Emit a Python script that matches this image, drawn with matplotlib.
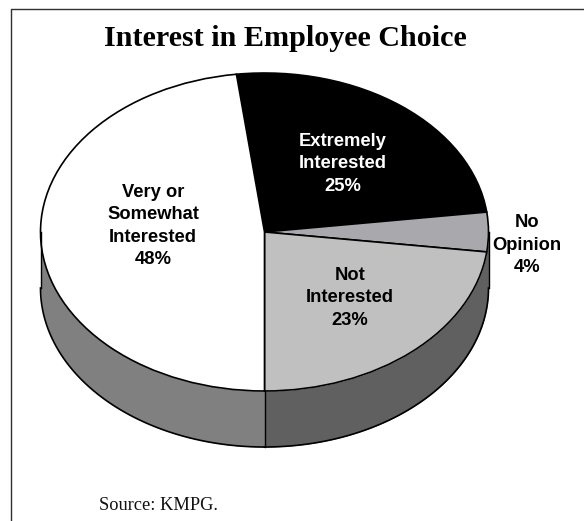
import numpy as np
import matplotlib
matplotlib.use("Agg")
import matplotlib.pyplot as plt

W, H = 584, 521

slice_values = [25, 4, 23, 48]
slice_colors = ["#000000", "#a9a9ad", "#c0c0c0", "#ffffff"]
slice_labels = ["Extremely\nInterested\n25%", "No\nOpinion\n4%", "Not\nInterested\n23%", "Very or\nSomewhat\nInterested\n48%"]
label_x = [342.5, 527, 350, 153]
label_y = [164, 245, 298, 226]
label_colors = ["white", "black", "black", "black"]
wall_colors = ["#808080", "#606060"]

title = "Interest in Employee Choice"
source = "Source: KMPG."

# pie geometry in pixels
cx, cy = 264.5, 232
rx, ry = 224, 159
depth = 56

fig = plt.figure(figsize=(W/100, H/100), dpi=100, facecolor="white")

# overlay in pixel coords for the frame and the text
bg = fig.add_axes([0, 0, 1, 1])
bg.set_xlim(0, W)
bg.set_ylim(H, 0)
bg.axis("off")
bg.plot([10.5, 10.5, W], [H, 8.5, 8.5], color="#303030", lw=1)

# the pie axes spans the ellipse, so a unit pie turns into a flat disc
ax = fig.add_axes([(cx-rx)/W, 1-(cy+ry)/H, 2*rx/W, 2*ry/H])
ax.patch.set_visible(False)

# side wall under the front half, split at the bottom of the disc
d = 2*depth/(2*ry)
t = np.radians(np.linspace(180, 270, 100))
ax.fill_between(np.cos(t), np.sin(t)-d, np.sin(t), color=wall_colors[0], lw=0, clip_on=False)
ax.plot(np.cos(t), np.sin(t)-d, color="black", lw=1.2, clip_on=False)
t = np.radians(np.linspace(270, 360, 100))
ax.fill_between(np.cos(t), np.sin(t)-d, np.sin(t), color=wall_colors[1], lw=0, clip_on=False)
ax.plot(np.cos(t), np.sin(t)-d, color="black", lw=1.2, clip_on=False)
ax.plot([0, 0], [-1, -1-d], color="black", lw=1, clip_on=False)
ax.plot([-1, -1], [0, -d], color="black", lw=1, clip_on=False)
ax.plot([1, 1], [0, -d], color="black", lw=1, clip_on=False)

ax.pie(slice_values, colors=slice_colors, startangle=97.2, counterclock=False, radius=1,
       wedgeprops=dict(edgecolor="black", linewidth=1.2, clip_on=False))
ax.set_aspect("auto")
ax.set_xlim(-1, 1)
ax.set_ylim(-1, 1)

text_ax = fig.add_axes([0, 0, 1, 1])
text_ax.set_xlim(0, W)
text_ax.set_ylim(H, 0)
text_ax.axis("off")
text_ax.text(285.5, 38, title, family="Liberation Serif", weight="bold", fontsize=21.7, ha="center", va="center", color="black")
text_ax.text(158.5, 505.5, source, family="Liberation Serif", fontsize=13.2, ha="center", va="center", color="#111111")
for lab, x, y, c in zip(slice_labels, label_x, label_y, label_colors):
    text_ax.text(x, y, lab, family="Liberation Sans", weight="bold", fontsize=13.2, ha="center", va="center",
                 color=c, linespacing=1.4)

fig.savefig("out.png", dpi=100)
